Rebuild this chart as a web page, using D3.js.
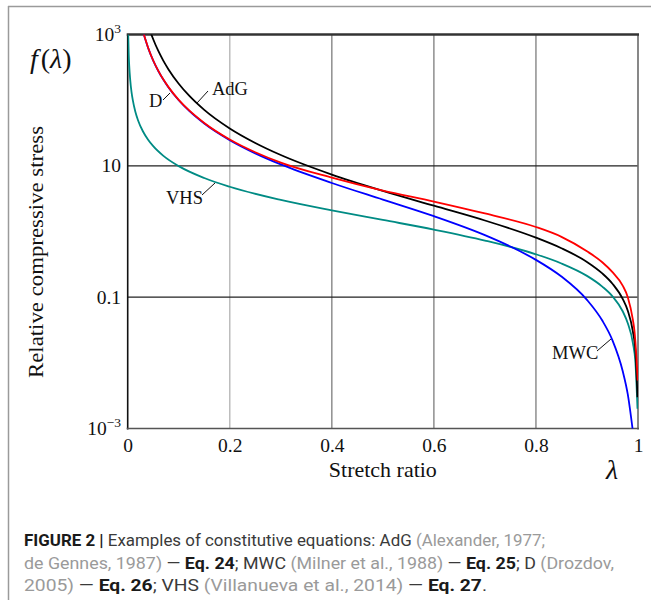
<!DOCTYPE html>
<html>
<head>
<meta charset="utf-8">
<script src="https://cdn.jsdelivr.net/npm/d3@7"></script>
<style>
body { margin: 0; background: #fff; }
</style>
</head>
<body>
<div id="chart"></div>
<script>
// values (stretch ratio lambda -> relative stress f)
var lamAdG = [0.046, 0.05, 0.06, 0.07, 0.08, 0.1, 0.12, 0.15, 0.2, 0.25, 0.3, 0.4, 0.5, 0.6, 0.7, 0.8, 0.85, 0.9, 0.93, 0.95, 0.97, 0.98, 0.99, 0.995, 0.999];
var fAdG   = [1020, 846, 561, 397, 294, 178, 118, 71.2, 37.1, 22.3, 14.6, 7.36, 4.16, 2.47, 1.47, 0.806, 0.556, 0.344, 0.230, 0.160, 0.094, 0.062, 0.030, 0.015, 0.003];

var lamMWC = [0.0316, 0.04, 0.05, 0.06, 0.07, 0.08, 0.1, 0.12, 0.15, 0.2, 0.25, 0.3, 0.4, 0.5, 0.6, 0.7, 0.75, 0.8, 0.85, 0.9, 0.93, 0.95, 0.97, 0.98, 0.99];
var fMWC   = [1000, 625, 400, 278, 204, 156, 99.8, 69.2, 44.1, 24.6, 15.5, 10.5, 5.48, 3.06, 1.71, 0.88, 0.59, 0.37, 0.206, 0.091, 0.044, 0.022, 0.0075, 0.0033, 0.0009];

var lamD = [0.0316, 0.04, 0.05, 0.06, 0.07, 0.08, 0.1, 0.12, 0.15, 0.2, 0.25, 0.3, 0.4, 0.5, 0.6, 0.7, 0.8, 0.85, 0.9, 0.93, 0.95, 0.97, 0.98, 0.99, 0.993, 0.997, 0.9995];
var fD   = [1005, 630, 402, 280, 206, 158, 101, 70.3, 45, 25.2, 16.1, 11.2, 6.6, 4.2, 2.86, 1.88, 1.17, 0.83, 0.50, 0.34, 0.24, 0.15, 0.10, 0.045, 0.031, 0.012, 0.0054];

var lamVHS = [0.001, 0.002, 0.003, 0.005, 0.0075, 0.01, 0.015, 0.02, 0.03, 0.04, 0.05, 0.07, 0.1, 0.15, 0.2, 0.3, 0.4, 0.5, 0.6, 0.7, 0.8, 0.85, 0.9, 0.93, 0.95, 0.97, 0.98, 0.99, 0.995, 0.999];
var fVHS   = [1000, 500, 333, 200, 133, 100, 66.7, 50, 33.3, 25, 19.95, 14.2, 9.9, 6.52, 4.8, 3.03, 2.1, 1.5, 1.07, 0.729, 0.45, 0.326, 0.211, 0.145, 0.103, 0.061, 0.040, 0.020, 0.010, 0.002];

var xTicks = [0, 0.2, 0.4, 0.6, 0.8, 1];
var xTickLabels = ["0", "0.2", "0.4", "0.6", "0.8", "1"];
var yTicks = [1e3, 10, 0.1, 1e-3];
var yTickBase = ["10", "10", "0.1", "10"];
var yTickSup = ["3", "", "", "\u22123"];

var width = 651;
var height = 600;
var serif = "'Liberation Serif', 'DejaVu Serif', serif";

var svg = d3.select("#chart")
    .append("svg")
    .attr("width", width)
    .attr("height", height);

svg.append("rect").attr("width", width).attr("height", height).attr("fill", "#fff");

// outer frame (top and left only)
svg.append("line").attr("x1", 8).attr("y1", 6.5).attr("x2", width).attr("y2", 6.5)
    .style("stroke", "#9a9a9a").style("stroke-width", "1.5px");
svg.append("line").attr("x1", 8.5).attr("y1", 6).attr("x2", 8.5).attr("y2", height)
    .style("stroke", "#9a9a9a").style("stroke-width", "1.5px");

var x = d3.scaleLinear().domain([0, 1]).range([127.7, 638]);
var y = d3.scaleLog().domain([1e-3, 1e3]).range([428.5, 34.5]);

var g = svg.append("g");

// vertical grid
g.selectAll(".vgrid")
    .data(xTicks.slice(1, -1))
    .enter()
    .append("line")
    .attr("x1", function (d) { return x(d); })
    .attr("x2", function (d) { return x(d); })
    .attr("y1", y(1e3))
    .attr("y2", y(1e-3))
    .style("stroke", function (d, i) { return i == 0 ? "#bdbdbd" : "#8e8e8e"; })
    .style("stroke-width", "1.5px");

// horizontal grid
g.selectAll(".hgrid")
    .data([10, 0.1])
    .enter()
    .append("line")
    .attr("x1", x(0))
    .attr("x2", x(1))
    .attr("y1", function (d) { return y(d); })
    .attr("y2", function (d) { return y(d); })
    .style("stroke", "#222")
    .style("stroke-width", "1.3px");

// curves
svg.append("clipPath").attr("id", "plotClip")
    .append("rect")
    .attr("x", x(0)).attr("y", y(1e3))
    .attr("width", x(1) - x(0)).attr("height", y(1e-3) - y(1e3));

var line = d3.line()
    .x(function (d) { return x(d[0]); })
    .y(function (d) { return y(d[1]); })
    .curve(d3.curveMonotoneX);

var series = [
    { lam: lamVHS, f: fVHS, color: "#008b84" },
    { lam: lamAdG, f: fAdG, color: "#000000" },
    { lam: lamMWC, f: fMWC, color: "#0000ff" },
    { lam: lamD, f: fD, color: "#ff0000" }
];

var curves = svg.append("g").attr("clip-path", "url(#plotClip)");
series.forEach(function (s) {
    var pts = s.lam.map(function (l, i) { return [l, s.f[i]]; });
    curves.append("path")
        .datum(pts)
        .attr("d", line)
        .style("fill", "none")
        .style("stroke", s.color)
        .style("stroke-width", "1.8px");
});

// frame of the plot
g.append("line").attr("x1", x(0)).attr("x2", x(0)).attr("y1", y(1e3)).attr("y2", y(1e-3) + 1)
    .style("stroke", "#111").style("stroke-width", "1.6px");
g.append("line").attr("x1", x(1)).attr("x2", x(1)).attr("y1", y(1e3)).attr("y2", y(1e-3) + 1)
    .style("stroke", "#6a6a6a").style("stroke-width", "1.6px");
g.append("line").attr("x1", x(0) - 1).attr("x2", x(1) + 1).attr("y1", y(1e-3)).attr("y2", y(1e-3))
    .style("stroke", "#555").style("stroke-width", "1.6px");
g.append("line").attr("x1", x(0) - 1).attr("x2", x(1) + 1).attr("y1", y(1e3)).attr("y2", y(1e3))
    .style("stroke", "#333").style("stroke-width", "2.6px");

// x tick labels
var xAxis = svg.append("g")
    .attr("transform", "translate(0," + (y(1e-3) + 6) + ")")
    .call(d3.axisBottom(x).tickValues(xTicks)
        .tickFormat(function (d, i) { return xTickLabels[i]; })
        .tickSize(0).tickPadding(4));
xAxis.select(".domain").remove();
xAxis.selectAll("text")
    .attr("font-family", serif)
    .attr("font-size", "19.5px")
    .attr("fill", "#111");

// y tick labels
yTicks.forEach(function (t, i) {
    var txt = svg.append("text")
        .attr("x", 121)
        .attr("y", y(t) + 6.5)
        .attr("text-anchor", "end")
        .attr("font-family", serif)
        .attr("font-size", "19.5px")
        .attr("fill", "#111")
        .text(yTickBase[i]);
    if (yTickSup[i]) {
        txt.append("tspan")
            .attr("dy", "-8")
            .attr("font-size", "13.5px")
            .text(yTickSup[i]);
    }
});

// axis titles
svg.append("text")
    .attr("x", 30)
    .attr("y", 68)
    .attr("font-family", serif)
    .attr("font-size", "28px")
    .attr("fill", "#111")
    .html("<tspan font-style='italic'>f</tspan><tspan dx='3'>(</tspan><tspan font-style='italic'>\u03bb</tspan>)");

svg.append("text")
    .attr("transform", "translate(43," + 252 + ") rotate(-90)")
    .attr("text-anchor", "middle")
    .attr("font-family", serif)
    .attr("font-size", "21px")
    .attr("textLength", 252)
    .attr("lengthAdjust", "spacingAndGlyphs")
    .attr("fill", "#111")
    .text("Relative compressive stress");

svg.append("text")
    .attr("x", x(0.5))
    .attr("y", 477)
    .attr("text-anchor", "middle")
    .attr("font-family", serif)
    .attr("font-size", "21px")
    .attr("textLength", 108)
    .attr("lengthAdjust", "spacingAndGlyphs")
    .attr("fill", "#111")
    .text("Stretch ratio");

svg.append("text")
    .attr("x", 612)
    .attr("y", 479)
    .attr("text-anchor", "middle")
    .attr("font-family", serif)
    .attr("font-style", "italic")
    .attr("font-size", "28px")
    .attr("fill", "#111")
    .text("\u03bb");

// curve labels with leader lines
var labels = [
    { text: "AdG", tx: 212, ty: 95, x1: 208, y1: 91, x2: 197, y2: 103 },
    { text: "D", tx: 149, ty: 107, x1: 163, y1: 100, x2: 170, y2: 93 },
    { text: "VHS", tx: 166, ty: 204, x1: 202, y1: 195, x2: 215, y2: 183 },
    { text: "MWC", tx: 552, ty: 359, x1: 597, y1: 351, x2: 611, y2: 339 }
];
labels.forEach(function (d) {
    svg.append("line")
        .attr("x1", d.x1).attr("y1", d.y1).attr("x2", d.x2).attr("y2", d.y2)
        .style("stroke", "#111").style("stroke-width", "1px");
    svg.append("text")
        .attr("x", d.tx).attr("y", d.ty)
        .attr("font-family", serif)
        .attr("font-size", "18.5px")
        .attr("fill", "#111")
        .text(d.text);
});

// caption
var capLines = [
    [["FIGURE 2 |", "b"], [" Examples of constitutive equations: AdG ", "n"], ["(Alexander, 1977;", "c"]],
    [["de Gennes, 1987)", "c"], [" \u2014 ", "n"], ["Eq. 24", "b"], ["; MWC ", "n"], ["(Milner et al., 1988)", "c"], [" \u2014 ", "n"], ["Eq. 25", "b"], ["; D ", "n"], ["(Drozdov,", "c"]],
    [["2005)", "c"], [" \u2014 ", "n"], ["Eq. 26", "b"], ["; VHS ", "n"], ["(Villanueva et al., 2014)", "c"], [" \u2014 ", "n"], ["Eq. 27", "b"], [".", "n"]]
];
var capY = [546, 569, 591];
var capWidth = [521, 590, 463];
capLines.forEach(function (parts, i) {
    var t = svg.append("text")
        .attr("x", 24)
        .attr("y", capY[i])
        .attr("font-family", "Roboto, 'Liberation Sans', sans-serif")
        .attr("font-size", "17px")
        .attr("textLength", capWidth[i])
        .attr("lengthAdjust", "spacingAndGlyphs")
        .style("white-space", "pre");
    parts.forEach(function (p) {
        t.append("tspan")
            .attr("font-weight", p[1] == "b" ? 700 : 400)
            .attr("fill", p[1] == "b" ? "#1a1a1a" : (p[1] == "c" ? "#9a9a9a" : "#3a3a3a"))
            .text(p[0]);
    });
});
</script>
</body>
</html>
